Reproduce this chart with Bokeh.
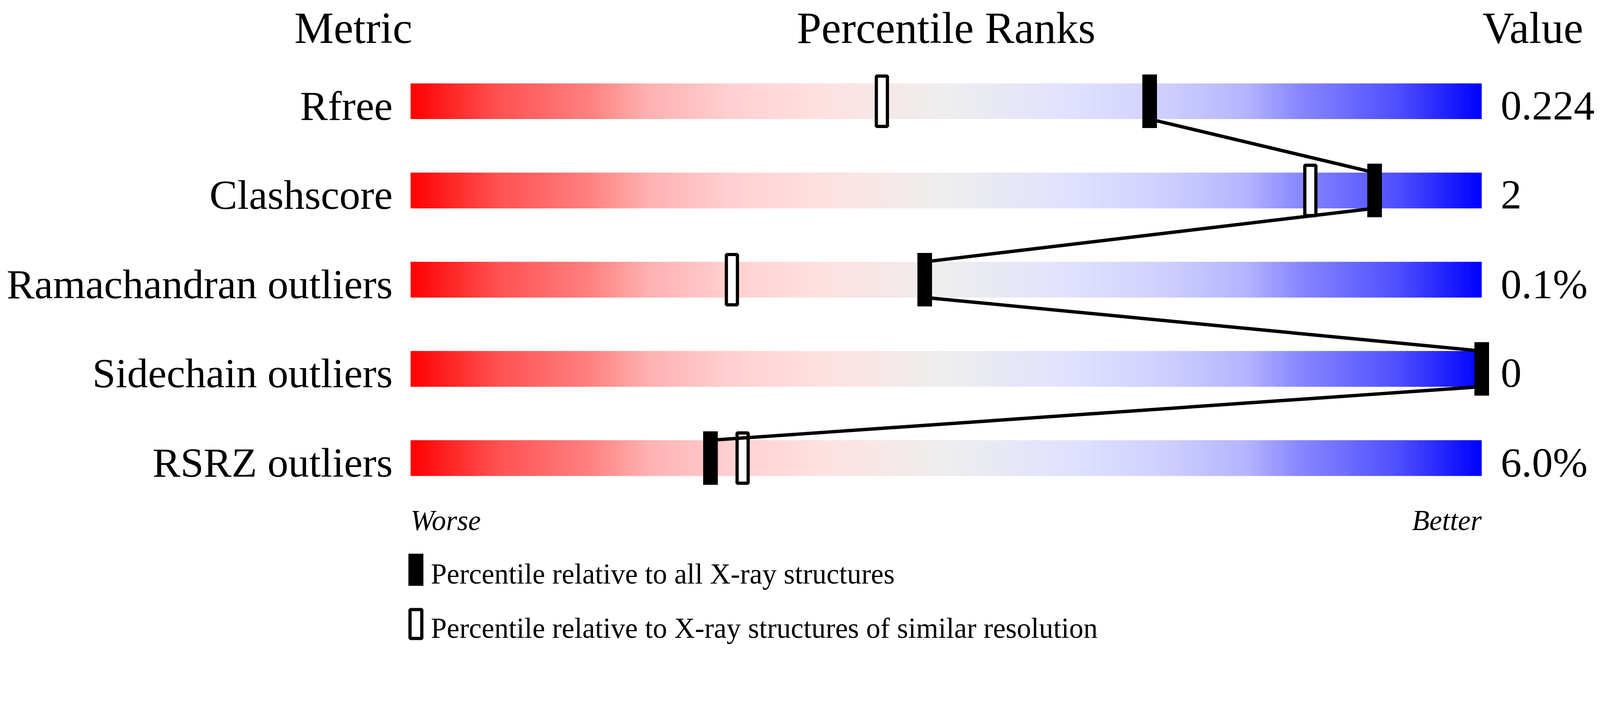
from bokeh.models import ColumnDataSource, Range1d, Label
from bokeh.plotting import figure
from bokeh.embed import file_html
from bokeh.resources import INLINE
import numpy as np

metrics = ["Rfree", "Clashscore", "Ramachandran outliers", "Sidechain outliers", "RSRZ outliers"]
values = ["0.224", "2", "0.1%", "0", "6.0%"]
pct_all = [69, 90, 48, 100, 28]          # relative to all X-ray structures
pct_similar = [44, 84, 30, None, 31]     # relative to similar resolution

# colour ramp of the slider bar (worse -> better)
ramp_pos = [0.0, 0.08, 0.17, 0.22, 0.30, 0.38, 0.50, 0.62, 0.70, 0.78, 0.83, 0.92, 1.0]
ramp_rgb = [(255, 0, 0), (255, 80, 80), (255, 130, 130), (255, 176, 176), (255, 208, 208),
            (255, 224, 224), (238, 238, 238), (224, 224, 255), (208, 208, 255),
            (180, 180, 255), (135, 135, 255), (80, 80, 255), (0, 0, 255)]

FONT = "Liberation Serif"
F = 1.094      # screenshot px per css px
PX = 30.0      # reference px per percentile
ROW = 250.0    # reference px per row
W, H = 4084, 1651


def xr(px):
    # reference x pixel -> percentile units
    return (px - 1153) / PX


def yr(px):
    # reference y pixel -> row units
    return (px - 286) / ROW


def fs(px):
    return "%.1fpx" % (px / F)


def base(px, size):
    # alphabetic baseline correction seen in the render
    return yr(px - 0.32 * size)


x0 = xr(8 * F - 5)
y0 = yr(8 * F - 6)
p = figure(width=W, height=H, output_backend="svg", toolbar_location=None,
           x_range=Range1d(x0, x0 + W * F / PX),
           y_range=Range1d(y0 + H * F / ROW, y0),
           x_axis_location=None, y_axis_location=None, min_border=0)
p.grid.visible = False
p.outline_line_color = None
p.background_fill_color = "white"

# gradient bars built from thin strips
n_strips = 300
edges = np.linspace(0, 100, n_strips + 1)
mids = (edges[:-1] + edges[1:]) / 200.0
ramp = np.array(ramp_rgb, dtype=float)
cols = ["#%02x%02x%02x" % tuple(int(round(np.interp(t, ramp_pos, ramp[:, k]))) for k in range(3))
        for t in mids]
left, right, top, bottom, colors = [], [], [], [], []
for i in range(len(metrics)):
    for j in range(n_strips):
        left.append(edges[j])
        right.append(min(edges[j + 1] + 0.15, 100))
        top.append(i - 0.2)
        bottom.append(i + 0.2)
        colors.append(cols[j])
p.quad(left=left, right=right, top=top, bottom=bottom, fill_color=colors, line_color=None)

# open markers (similar resolution)
sim_x = [v for v in pct_similar if v is not None]
sim_y = [i for i, v in enumerate(pct_similar) if v is not None]
p.rect(x=sim_x, y=sim_y, width=31 / PX, height=141 / ROW, fill_color="white",
       line_color="black", line_width=9 / F)

# connecting line between the filled markers
xs, ys = [], []
for i in range(len(metrics) - 1):
    xs.append([pct_all[i], pct_all[i + 1]])
    ys.append([i + 0.2, i + 1 - 0.2])
p.multi_line(xs=xs, ys=ys, line_color="black", line_width=9.5 / F)

# filled markers (all X-ray structures)
p.rect(x=pct_all, y=list(range(len(metrics))), width=41 / PX, height=150 / ROW,
       fill_color="black", line_color=None)

# metric names and values
LAB = 117
src = ColumnDataSource(dict(
    y=[base(336 + 250 * i, LAB) for i in range(len(metrics))],
    name=metrics, val=values,
    xl=[xr(1103)] * len(metrics),
    xv=[xr(4206)] * len(metrics)))
p.text(x="xl", y="y", text="name", source=src, text_align="right", text_baseline="alphabetic",
       text_font_size=fs(LAB), text_font=dict(value=FONT), text_color="black")
p.text(x="xv", y="y", text="val", source=src, text_align="left", text_baseline="alphabetic",
       text_font_size=fs(LAB), text_font=dict(value=FONT), text_color="black")

# column headers (kept just inside the top edge)
HEAD = 124
for txt, x, align in [("Metric", xr(1158), "right"),
                      ("Percentile Ranks", 50, "center"),
                      ("Value", xr(4155), "left")]:
    p.add_layout(Label(x=x, y=base(121, HEAD), text=txt, text_align=align,
                       text_baseline="alphabetic", text_font=FONT,
                       text_font_size=fs(HEAD), text_color="black"))

# worse / better
SMALL = 80
for txt, x, align in [("Worse", 0, "left"), ("Better", 100, "right")]:
    p.add_layout(Label(x=x, y=base(1487, SMALL), text=txt, text_align=align,
                       text_baseline="alphabetic", text_font=FONT, text_font_style="italic",
                       text_font_size=fs(SMALL), text_color="black"))

# legend (kept just inside the bottom edge)
leg_x = xr(1168)
p.rect(x=[leg_x], y=[yr(1599)], width=42 / PX, height=90 / ROW,
       fill_color="black", line_color=None)
p.rect(x=[leg_x], y=[yr(1751)], width=33 / PX, height=81 / ROW,
       fill_color="white", line_color="black", line_width=9 / F)
for txt, b in [("Percentile relative to all X-ray structures", 1637),
               ("Percentile relative to X-ray structures of similar resolution", 1789)]:
    p.add_layout(Label(x=xr(1210), y=base(b, SMALL), text=txt, text_align="left",
                       text_baseline="alphabetic", text_font=FONT,
                       text_font_size=fs(SMALL), text_color="black"))

open("out.html", "w").write(file_html(p, INLINE))
